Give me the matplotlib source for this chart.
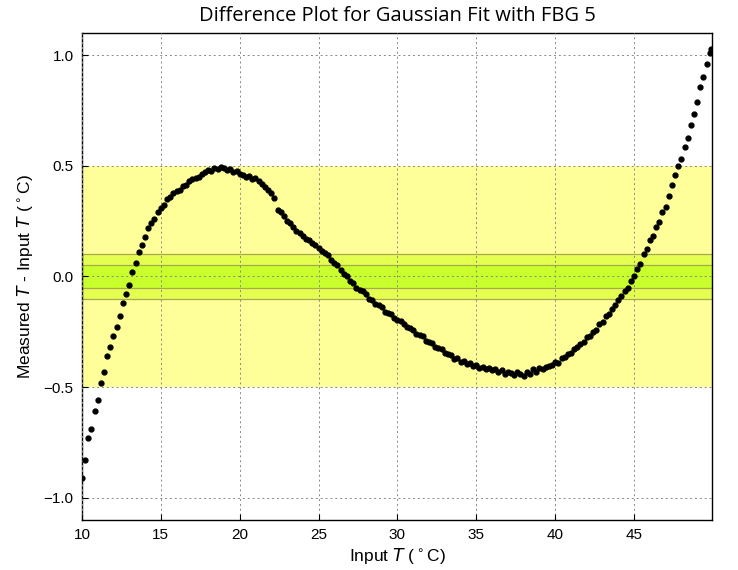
import numpy as np
import matplotlib
matplotlib.use("Agg")
import matplotlib.pyplot as plt

plt.rcParams['font.family'] = ['Liberation Sans', 'DejaVu Sans']
plt.rcParams['mathtext.fontset'] = 'dejavusans'

# input temperature (deg C) and measured - input difference
input_t = [
    10.0, 10.2, 10.4, 10.6, 10.8, 11.0, 11.2, 11.4, 11.6, 11.8,
    12.0, 12.2, 12.4, 12.6, 12.8, 13.0, 13.2, 13.4, 13.6, 13.8,
    14.0, 14.2, 14.4, 14.6, 14.8, 15.0, 15.2, 15.4, 15.6, 15.8,
    16.0, 16.2, 16.4, 16.6, 16.8, 17.0, 17.2, 17.4, 17.6, 17.8,
    18.0, 18.2, 18.4, 18.6, 18.8, 19.0, 19.2, 19.4, 19.6, 19.8,
    20.0, 20.2, 20.4, 20.6, 20.8, 21.0, 21.2, 21.4, 21.6, 21.8,
    22.0, 22.2, 22.4, 22.6, 22.8, 23.0, 23.2, 23.4, 23.6, 23.8,
    24.0, 24.2, 24.4, 24.6, 24.8, 25.0, 25.2, 25.4, 25.6, 25.8,
    26.0, 26.2, 26.4, 26.6, 26.8, 27.0, 27.2, 27.4, 27.6, 27.8,
    28.0, 28.2, 28.4, 28.6, 28.8, 29.0, 29.2, 29.4, 29.6, 29.8,
    30.0, 30.2, 30.4, 30.6, 30.8, 31.0, 31.2, 31.4, 31.6, 31.8,
    32.0, 32.2, 32.4, 32.6, 32.8, 33.0, 33.2, 33.4, 33.6, 33.8,
    34.0, 34.2, 34.4, 34.6, 34.8, 35.0, 35.2, 35.4, 35.6, 35.8,
    36.0, 36.2, 36.4, 36.6, 36.8, 37.0, 37.2, 37.4, 37.6, 37.8,
    38.0, 38.2, 38.4, 38.6, 38.8, 39.0, 39.2, 39.4, 39.6, 39.8,
    40.0, 40.2, 40.4, 40.6, 40.8, 41.0, 41.2, 41.4, 41.6, 41.8,
    42.0, 42.2, 42.4, 42.6, 42.8, 43.0, 43.2, 43.4, 43.6, 43.8,
    44.0, 44.2, 44.4, 44.6, 44.8, 45.0, 45.2, 45.4, 45.6, 45.8,
    46.0, 46.2, 46.4, 46.6, 46.8, 47.0, 47.2, 47.4, 47.6, 47.8,
    48.0, 48.2, 48.4, 48.6, 48.8, 49.0, 49.2, 49.4, 49.6, 49.8,
    49.9,
]
diff_t = [
    -0.91, -0.83, -0.73, -0.69, -0.61, -0.56, -0.48, -0.43, -0.36, -0.32,
    -0.27, -0.23, -0.18, -0.12, -0.08, -0.04, 0.02, 0.06, 0.11, 0.14,
    0.18, 0.22, 0.24, 0.26, 0.29, 0.31, 0.325, 0.35, 0.36, 0.375,
    0.385, 0.39, 0.41, 0.415, 0.43, 0.44, 0.445, 0.45, 0.465, 0.47,
    0.48, 0.475, 0.49, 0.485, 0.495, 0.49, 0.48, 0.485, 0.47, 0.475,
    0.465, 0.46, 0.45, 0.455, 0.44, 0.445, 0.43, 0.42, 0.405, 0.39,
    0.375, 0.355, 0.30, 0.29, 0.275, 0.25, 0.24, 0.225, 0.205, 0.195,
    0.185, 0.17, 0.165, 0.15, 0.14, 0.13, 0.115, 0.105, 0.095, 0.075,
    0.06, 0.05, 0.03, 0.01, 0.0, -0.02, -0.03, -0.05, -0.06, -0.065,
    -0.08, -0.1, -0.105, -0.125, -0.13, -0.14, -0.16, -0.165, -0.17, -0.19,
    -0.195, -0.2, -0.215, -0.23, -0.235, -0.24, -0.26, -0.265, -0.27, -0.29,
    -0.295, -0.3, -0.32, -0.325, -0.33, -0.345, -0.35, -0.355, -0.375, -0.37,
    -0.385, -0.38, -0.395, -0.39, -0.405, -0.40, -0.415, -0.41, -0.42, -0.415,
    -0.425, -0.42, -0.43, -0.425, -0.44, -0.43, -0.435, -0.445, -0.43, -0.44,
    -0.45, -0.43, -0.44, -0.42, -0.43, -0.415, -0.42, -0.41, -0.405, -0.40,
    -0.385, -0.39, -0.37, -0.365, -0.35, -0.345, -0.33, -0.32, -0.305, -0.295,
    -0.275, -0.27, -0.25, -0.24, -0.215, -0.205, -0.18, -0.17, -0.145, -0.13,
    -0.105, -0.09, -0.065, -0.05, -0.02, 0.0, 0.035, 0.055, 0.10, 0.125,
    0.165, 0.185, 0.225, 0.245, 0.29, 0.315, 0.365, 0.415, 0.46, 0.50,
    0.53, 0.585, 0.625, 0.685, 0.735, 0.79, 0.855, 0.90, 0.96, 1.01,
    1.03,
]

# tolerance bands (half widths) and their fills
band_limits = [0.5, 0.1, 0.05]
band_colors = ["#ffff99", "#e5ff50", "#c8ff2c"]

fig = plt.figure(figsize=(7.38, 5.70), dpi=100)
ax = fig.add_axes([0.111, 0.088, 0.854, 0.854])

for lim, col in zip(band_limits, band_colors):
    edge = "none" if lim == 0.5 else "#a8a850"
    ax.axhspan(-lim, lim, facecolor=col, edgecolor=edge, linewidth=0.9, zorder=0)

ax.plot(input_t, diff_t, "o", color="black", markersize=3.5, zorder=3)

ax.set_xlim(10, 49.95)
ax.set_ylim(-1.1, 1.1)
ax.set_xticks([10, 15, 20, 25, 30, 35, 40, 45])
ax.set_yticks([-1.0, -0.5, 0.0, 0.5, 1.0])
ax.grid(True, linestyle=(0, (2, 3)), color="#888888", linewidth=0.7, zorder=1)
ax.set_axisbelow(False)
ax.tick_params(direction="in", length=4, labelsize=11, pad=6)
for sp in ax.spines.values():
    sp.set_linewidth(1.0)

ax.set_xlabel(r"Input $T$ ($^\circ$C)", fontsize=12.5, labelpad=3)
ax.set_ylabel(r"Measured $T$ - Input $T$ ($^\circ$C)", fontsize=12.5, labelpad=6)
ax.set_title("Difference Plot for Gaussian Fit with FBG 5", fontsize=14.5,
             family="Open Sans", pad=9)

fig.savefig("out.png", dpi=100)
